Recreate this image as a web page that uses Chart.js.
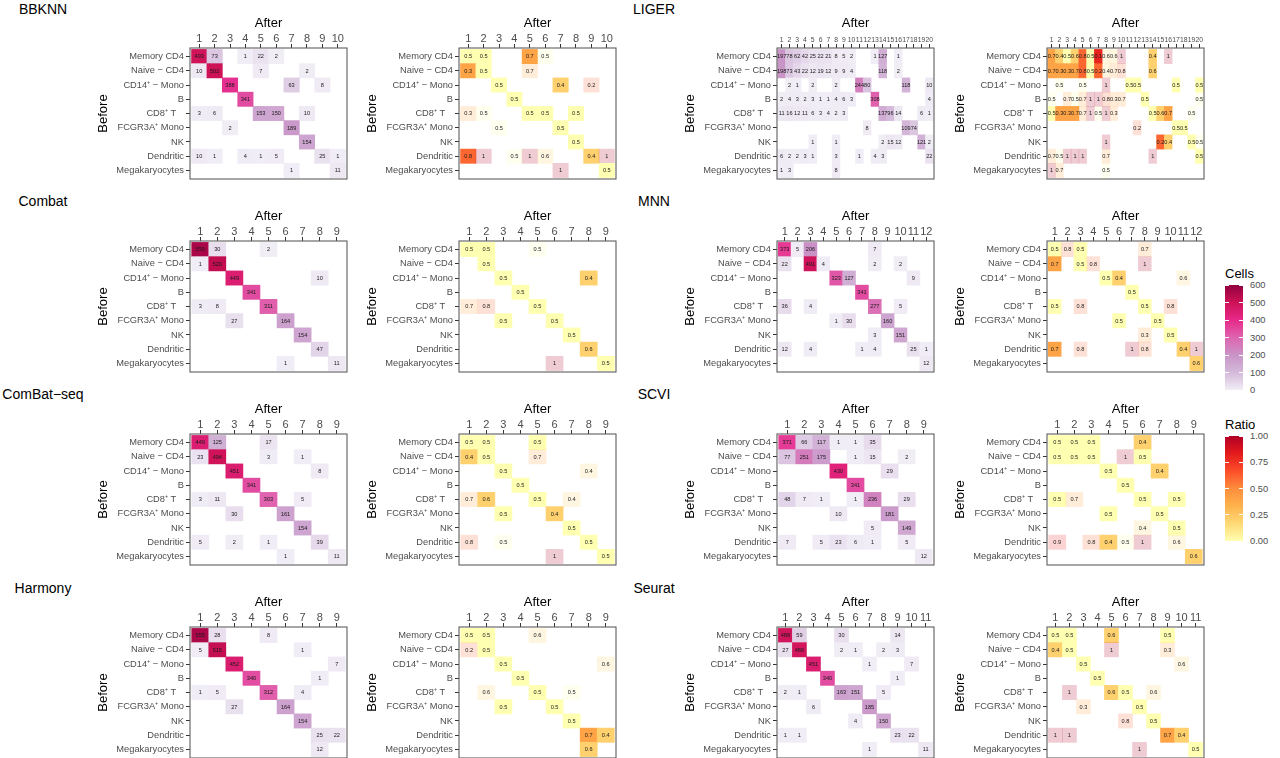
<!DOCTYPE html>
<html>
<head>
<meta charset="utf-8">
<script src="https://cdn.jsdelivr.net/npm/chart.js@4.4.1/dist/chart.umd.min.js"></script>
<style>
  html, body { margin: 0; padding: 0; background: #fff; }
  body { width: 1280px; height: 758px; position: relative; overflow: hidden;
         font-family: "Liberation Sans", Arial, Helvetica, sans-serif; }
  canvas { position: absolute; }
  .ptitle { position: absolute; font-size: 14px; color: #000; transform: translate(-50%, -50%); white-space: nowrap; }
  .ltitle { position: absolute; font-size: 13px; color: #000; transform: translateY(-50%); }
  .lbar { position: absolute; }
  .ltick { position: absolute; height: 1px; background: #fff; }
  .llabel { position: absolute; font-size: 9.3px; color: #4d4d4d; transform: translateY(-50%); }
</style>
</head>
<body>
<script>
const _ = null;

const cellTypes = ['Memory CD4', 'Naive \u2212 CD4', 'CD14\u207A \u2212 Mono', 'B', 'CD8\u207A T   ',
                   'FCGR3A\u207A Mono', 'NK', 'Dendritic', 'Megakaryocytes'];
const clusterIds = ['1', '2', '3', '4', '5', '6', '7', '8', '9', '10',
                    '11', '12', '13', '14', '15', '16', '17', '18', '19', '20'];

// rows follow cellTypes, columns are the "After" clusters
const bbknnCells = [
  [493, 73, _, 1, 22, 2, _, _, _, _],
  [10, 502, _, _, 7, _, _, 2, _, _],
  [_, _, 388, _, _, _, 63, _, 8, _],
  [_, _, _, 341, _, _, _, _, _, _],
  [3, 6, _, _, 153, 150, _, 10, _, _],
  [_, _, 2, _, _, _, 189, _, _, _],
  [_, _, _, _, _, _, _, 154, _, _],
  [10, 1, _, 4, 1, 5, _, _, 25, 1],
  [_, _, _, _, _, _, 1, _, _, 11]
];
const bbknnRatio = [
  [0.5, 0.5, _, _, 0.7, 0.5, _, _, _, _],
  [0.3, 0.5, _, _, 0.7, _, _, _, _, _],
  [_, _, 0.5, _, _, _, 0.4, _, 0.2, _],
  [_, _, _, 0.5, _, _, _, _, _, _],
  [0.3, 0.5, _, _, 0.5, 0.5, _, 0.5, _, _],
  [_, _, 0.5, _, _, _, 0.5, _, _, _],
  [_, _, _, _, _, _, _, 0.5, _, _],
  [0.8, 1, _, 0.5, 1, 0.6, _, _, 0.4, 1],
  [_, _, _, _, _, _, 1, _, _, 0.5]
];

const combatCells = [
  [559, 30, _, _, 2, _, _, _, _],
  [1, 520, _, _, _, _, _, _, _],
  [_, _, 449, _, _, _, _, 10, _],
  [_, _, _, 341, _, _, _, _, _],
  [3, 8, _, _, 311, _, _, _, _],
  [_, _, 27, _, _, 164, _, _, _],
  [_, _, _, _, _, _, 154, _, _],
  [_, _, _, _, _, _, _, 47, _],
  [_, _, _, _, _, 1, _, _, 11]
];
const combatRatio = [
  [0.5, 0.5, _, _, 0.5, _, _, _, _],
  [_, 0.5, _, _, _, _, _, _, _],
  [_, _, 0.5, _, _, _, _, 0.4, _],
  [_, _, _, 0.5, _, _, _, _, _],
  [0.7, 0.8, _, _, 0.5, _, _, _, _],
  [_, _, 0.5, _, _, 0.5, _, _, _],
  [_, _, _, _, _, _, 0.5, _, _],
  [_, _, _, _, _, _, _, 0.6, _],
  [_, _, _, _, _, 1, _, _, 0.5]
];

const combatSeqCells = [
  [449, 125, _, _, 17, _, _, _, _],
  [23, 494, _, _, 3, _, 1, _, _],
  [_, _, 451, _, _, _, _, 8, _],
  [_, _, _, 341, _, _, _, _, _],
  [3, 11, _, _, 303, _, 5, _, _],
  [_, _, 30, _, _, 161, _, _, _],
  [_, _, _, _, _, _, 154, _, _],
  [5, _, 2, _, 1, _, _, 39, _],
  [_, _, _, _, _, 1, _, _, 11]
];
const combatSeqRatio = [
  [0.5, 0.5, _, _, 0.5, _, _, _, _],
  [0.4, 0.5, _, _, 0.7, _, _, _, _],
  [_, _, 0.5, _, _, _, _, 0.4, _],
  [_, _, _, 0.5, _, _, _, _, _],
  [0.7, 0.6, _, _, 0.5, _, 0.4, _, _],
  [_, _, 0.5, _, _, 0.4, _, _, _],
  [_, _, _, _, _, _, 0.5, _, _],
  [0.8, _, 0.5, _, _, _, _, 0.5, _],
  [_, _, _, _, _, 1, _, _, 0.5]
];

const harmonyCells = [
  [555, 28, _, _, 8, _, _, _, _],
  [5, 515, _, _, _, _, 1, _, _],
  [_, _, 452, _, _, _, _, _, 7],
  [_, _, _, 340, _, _, _, 1, _],
  [1, 5, _, _, 312, _, 4, _, _],
  [_, _, 27, _, _, 164, _, _, _],
  [_, _, _, _, _, _, 154, _, _],
  [_, _, _, _, _, _, _, 25, 22],
  [_, _, _, _, _, _, _, 12, _]
];
const harmonyRatio = [
  [0.5, 0.5, _, _, 0.6, _, _, _, _],
  [0.2, 0.5, _, _, _, _, _, _, _],
  [_, _, 0.5, _, _, _, _, _, 0.6],
  [_, _, _, 0.5, _, _, _, _, _],
  [_, 0.6, _, _, 0.5, _, 0.5, _, _],
  [_, _, 0.5, _, _, 0.5, _, _, _],
  [_, _, _, _, _, _, 0.5, _, _],
  [_, _, _, _, _, _, _, 0.7, 0.4],
  [_, _, _, _, _, _, _, 0.6, _]
];

const ligerCells = [
  [197, 78, 62, 42, 25, 22, 21, 8, 5, 2, _, _, 1, 127, _, 1, _, _, _, _],
  [198, 73, 43, 22, 12, 19, 12, 9, 9, 4, _, _, _, 118, _, 2, _, _, _, _],
  [_, 2, 1, _, 2, _, _, 2, _, _, 244, 80, _, _, _, _, 118, _, _, 10],
  [2, 4, 3, 2, 3, 1, 1, 4, 6, 3, _, _, 308, _, _, _, _, _, _, 4],
  [11, 16, 12, 11, 6, 3, 4, 2, 3, _, _, _, _, 137, 96, 14, _, _, 6, 1],
  [_, _, _, _, _, _, _, _, _, _, _, 8, _, _, _, _, 109, 74, _, _],
  [_, _, _, _, 1, _, _, 1, _, _, _, _, _, 2, 15, 12, _, _, 121, 2],
  [6, 2, 2, 3, 1, _, _, 3, _, _, 1, _, 4, 3, _, _, _, _, _, 22],
  [1, 3, _, _, _, _, _, 8, _, _, _, _, _, _, _, _, _, _, _, _]
];
const ligerRatio = [
  [0.7, 0.4, 0.5, 0.6, 0.8, 0.5, 0.1, 0.6, 0.6, 1, _, _, _, 0.4, _, 1, _, _, _, _],
  [0.7, 0.3, 0.3, 0.7, 0.8, 0.5, 0.2, 0.4, 0.7, 0.8, _, _, _, 0.6, _, _, _, _, _, _],
  [_, 0.5, _, _, 0.5, _, _, 1, _, _, 0.5, 0.5, _, _, _, _, 0.5, _, _, 0.5],
  [0.5, _, 0.7, 0.5, 0.7, 1, 1, 0.8, 0.3, 0.7, _, _, 0.5, _, _, _, _, _, _, 0.5],
  [0.5, 0.3, 0.3, 0.7, 0.7, 1, 0.5, 1, 0.3, _, _, _, _, 0.5, 0.6, 0.7, _, _, 0.5, _],
  [_, _, _, _, _, _, _, _, _, _, _, 0.2, _, _, _, _, 0.5, 0.5, _, _],
  [_, _, _, _, _, _, _, 1, _, _, _, _, _, _, 0.2, 0.4, _, _, 0.5, 0.5],
  [0.7, 0.5, 1, 1, 1, _, _, 0.7, _, _, _, _, _, 1, _, _, _, _, _, 0.5],
  [1, 0.7, _, _, _, _, _, 0.5, _, _, _, _, _, _, _, _, _, _, _, _]
];

const mnnCells = [
  [373, 5, 206, _, _, _, _, 7, _, _, _, _],
  [22, _, 491, 4, _, _, _, 2, _, 2, _, _],
  [_, _, _, _, 323, 127, _, _, _, _, 9, _],
  [_, _, _, _, _, _, 341, _, _, _, _, _],
  [36, _, 4, _, _, _, _, 277, _, 5, _, _],
  [_, _, _, _, 1, 30, _, _, 160, _, _, _],
  [_, _, _, _, _, _, _, 3, _, 151, _, _],
  [12, _, 4, _, _, _, 1, 4, _, _, 25, 1],
  [_, _, _, _, _, _, _, _, _, _, _, 12]
];
const mnnRatio = [
  [0.5, 0.8, 0.5, _, _, _, _, 0.7, _, _, _, _],
  [0.7, _, 0.5, 0.8, _, _, _, 1, _, _, _, _],
  [_, _, _, _, 0.5, 0.4, _, _, _, _, 0.6, _],
  [_, _, _, _, _, _, 0.5, _, _, _, _, _],
  [0.5, _, 0.8, _, _, _, _, 0.5, _, 0.8, _, _],
  [_, _, _, _, _, 0.5, _, _, 0.5, _, _, _],
  [_, _, _, _, _, _, _, 0.3, _, 0.5, _, _],
  [0.7, _, 0.8, _, _, _, 1, 0.8, _, _, 0.4, 1],
  [_, _, _, _, _, _, _, _, _, _, _, 0.6]
];

const scviCells = [
  [371, 66, 117, 1, 1, 35, _, _, _],
  [77, 251, 175, _, 1, 15, _, 2, _],
  [_, _, _, 430, _, _, 29, _, _],
  [_, _, _, _, 341, _, _, _, _],
  [48, 7, 1, _, 1, 236, _, 29, _],
  [_, _, _, 10, _, _, 181, _, _],
  [_, _, _, _, _, 5, _, 149, _],
  [7, _, 5, 23, 6, 1, _, 5, _],
  [_, _, _, _, _, _, _, _, 12]
];
const scviRatio = [
  [0.5, 0.5, 0.5, _, _, 0.4, _, _, _],
  [0.5, 0.5, 0.5, _, 1, 0.5, _, _, _],
  [_, _, _, 0.5, _, _, 0.4, _, _],
  [_, _, _, _, 0.5, _, _, _, _],
  [0.5, 0.7, _, _, _, 0.5, _, 0.5, _],
  [_, _, _, 0.5, _, _, 0.5, _, _],
  [_, _, _, _, _, 0.4, _, 0.5, _],
  [0.9, _, 0.8, 0.4, 0.5, 1, _, 0.6, _],
  [_, _, _, _, _, _, _, _, 0.6]
];

const seuratCells = [
  [488, 59, _, _, 30, _, _, _, 14, _, _],
  [27, 486, _, _, 2, 1, _, 2, 3, _, _],
  [_, _, 451, _, _, _, 1, _, _, 7, _],
  [_, _, _, 340, _, _, _, _, 1, _, _],
  [2, 1, _, _, 163, 151, _, 5, _, _, _],
  [_, _, 6, _, _, _, 185, _, _, _, _],
  [_, _, _, _, _, 4, _, 150, _, _, _],
  [1, 1, _, _, _, _, _, _, 23, 22, _],
  [_, _, _, _, _, _, 1, _, _, _, 11]
];
const seuratRatio = [
  [0.5, 0.5, _, _, 0.6, _, _, _, 0.5, _, _],
  [0.4, 0.5, _, _, 1, _, _, _, 0.3, _, _],
  [_, _, 0.5, _, _, _, _, _, _, 0.6, _],
  [_, _, _, 0.5, _, _, _, _, _, _, _],
  [_, 1, _, _, 0.6, 0.5, _, 0.6, _, _, _],
  [_, _, 0.3, _, _, _, 0.5, _, _, _, _],
  [_, _, _, _, _, 0.8, _, 0.5, _, _, _],
  [1, 1, _, _, _, _, _, _, 0.7, 0.4, _],
  [_, _, _, _, _, _, 1, _, _, _, 0.5]
];

const cellTicks = [0, 100, 200, 300, 400, 500, 600];
const ratioTicks = [0, 0.25, 0.5, 0.75, 1];
const cellMax = 600;

const puRd = ['#f1eef6', '#d4b9da', '#c994c7', '#df65b0', '#e7298a', '#ce1256', '#91003f'];
const ylOrRd = ['#ffffb2', '#fed976', '#feb24c', '#fd8d3c', '#fc4e2a', '#e31a1c', '#b10026'];

// layout
const FONT = '"Liberation Sans", Arial, Helvetica, sans-serif';
const BOX_W = 157, BOX_H = 131, AXIS_W = 94, AXIS_H = 32, PAD_R = 4, PAD_B = 8;
const columnsX = [{ title: 43, cells: 190, ratio: 459 }, { title: 654, cells: 777, ratio: 1047 }];
const rowsY = [{ title: 8.5, box: 48 }, { title: 201, box: 241 }, { title: 394, box: 434 }, { title: 588, box: 627 }];

const panels = [
  { title: 'BBKNN', cells: bbknnCells, ratio: bbknnRatio, col: 0, row: 0 },
  { title: 'Combat', cells: combatCells, ratio: combatRatio, col: 0, row: 1 },
  { title: 'ComBat\u2212seq', cells: combatSeqCells, ratio: combatSeqRatio, col: 0, row: 2 },
  { title: 'Harmony', cells: harmonyCells, ratio: harmonyRatio, col: 0, row: 3 },
  { title: 'LIGER', cells: ligerCells, ratio: ligerRatio, col: 1, row: 0 },
  { title: 'MNN', cells: mnnCells, ratio: mnnRatio, col: 1, row: 1 },
  { title: 'SCVI', cells: scviCells, ratio: scviRatio, col: 1, row: 2 },
  { title: 'Seurat', cells: seuratCells, ratio: seuratRatio, col: 1, row: 3 }
];

function hexToRgb(h) { return [1, 3, 5].map(i => parseInt(h.slice(i, i + 2), 16)); }
function ramp(stops, t) {
  t = Math.max(0, Math.min(1, t));
  const s = t * (stops.length - 1);
  const i = Math.min(Math.floor(s), stops.length - 2);
  const f = s - i;
  const a = hexToRgb(stops[i]), b = hexToRgb(stops[i + 1]);
  return a.map((v, k) => Math.round(v + (b[k] - v) * f));
}
function cellFill(p) {
  const c = ramp(puRd, p.v / cellMax);
  return `rgb(${c[0]},${c[1]},${c[2]})`;
}
function ratioFill(p) {
  // distance from an even 0.5 split, faded where the tile holds few cells
  const c = ramp(ylOrRd, Math.abs(p.v - 0.5) * 2);
  const a = p.n !== null && p.n < 10 ? 0.2 : 1;
  return `rgba(${c[0]},${c[1]},${c[2]},${a})`;
}

const panelBox = {
  id: 'panelBox',
  afterDraw(chart) {
    const { ctx, chartArea: a } = chart;
    ctx.save();
    ctx.strokeStyle = '#5e5e5e';
    ctx.lineWidth = 1.1;
    ctx.strokeRect(a.left, a.top, a.right - a.left, a.bottom - a.top);
    ctx.restore();
  }
};

const cellText = {
  id: 'cellText',
  afterDatasetsDraw(chart) {
    const { ctx } = chart;
    const meta = chart.getDatasetMeta(0);
    const data = chart.data.datasets[0].data;
    ctx.save();
    ctx.font = `5.6px ${FONT}`;
    ctx.fillStyle = '#1a1a1a';
    ctx.textAlign = 'center';
    ctx.textBaseline = 'middle';
    meta.data.forEach((bar, i) => {
      const p = bar.getCenterPoint();
      ctx.fillText(String(data[i].v), p.x, p.y + 0.3);
    });
    ctx.restore();
  }
};

function addText(cls, text, x, y) {
  const d = document.createElement('div');
  d.className = cls;
  d.textContent = text;
  d.style.left = x + 'px';
  d.style.top = y + 'px';
  document.body.appendChild(d);
  return d;
}

function drawHeatmap(left, top, values, counts, fillFn) {
  const nCols = values[0].length;
  const labels = clusterIds.slice(0, nCols);
  const tiles = [];
  values.forEach((row, r) => row.forEach((v, c) => {
    if (v !== null) tiles.push({ x: c, y: [r - 0.5, r + 0.5], v: v, n: counts[r][c] });
  }));

  const canvas = document.createElement('canvas');
  canvas.width = AXIS_W + BOX_W + PAD_R;
  canvas.height = AXIS_H + BOX_H + PAD_B;
  canvas.style.left = (left - AXIS_W) + 'px';
  canvas.style.top = (top - AXIS_H) + 'px';
  document.body.appendChild(canvas);

  const colFont = nCols > 15 ? 6.8 : 11;

  new Chart(canvas, {
    type: 'bar',
    data: {
      datasets: [{
        data: tiles,
        backgroundColor: ctx => fillFn(ctx.raw),
        borderWidth: 0,
        barPercentage: 1,
        categoryPercentage: 1
      }]
    },
    options: {
      responsive: false,
      animation: false,
      events: [],
      layout: { padding: { top: 0, left: 0, right: PAD_R, bottom: PAD_B } },
      plugins: { legend: { display: false }, tooltip: { enabled: false } },
      scales: {
        x: {
          type: 'linear', position: 'top', min: -0.6, max: nCols - 0.4, offset: false,
          afterBuildTicks: ax => { ax.ticks = labels.map((l, i) => ({ value: i })); },
          afterFit: ax => { ax.height = AXIS_H; },
          ticks: { callback: v => labels[v], autoSkip: false, maxRotation: 0, minRotation: 0, padding: 0,
                   color: '#4d4d4d', font: { family: FONT, size: colFont, lineHeight: 1 } },
          grid: { drawOnChartArea: false, drawTicks: true, tickLength: 4, color: '#333', offset: false },
          border: { display: false },
          title: { display: true, text: 'After', color: '#000', padding: 0, font: { family: FONT, size: 13 } }
        },
        y: {
          type: 'linear', reverse: true, min: -0.6, max: cellTypes.length - 0.4, beginAtZero: false,
          afterBuildTicks: ax => { ax.ticks = cellTypes.map((l, i) => ({ value: i })); },
          afterFit: ax => { ax.width = AXIS_W; },
          ticks: { callback: v => cellTypes[v], autoSkip: false, padding: 2,
                   color: '#4d4d4d', font: { family: FONT, size: 9.3 } },
          grid: { drawOnChartArea: false, drawTicks: true, tickLength: 4, color: '#333' },
          border: { display: false },
          title: { display: true, text: 'Before', color: '#000', padding: 0, font: { family: FONT, size: 13 } }
        }
      }
    },
    plugins: [panelBox, cellText]
  });
}

panels.forEach(p => {
  const cx = columnsX[p.col], ry = rowsY[p.row];
  addText('ptitle', p.title, cx.title, ry.title);
  drawHeatmap(cx.cells, ry.box, p.cells, p.cells, cellFill);
  drawHeatmap(cx.ratio, ry.box, p.ratio, p.cells, ratioFill);
});

// colour bars
function drawColorbar(title, titleY, barTop, stops, ticks, maxValue, fmt) {
  const BAR_X = 1225, BAR_W = 18, BAR_H = 105;
  addText('ltitle', title, BAR_X, titleY);
  const bar = document.createElement('div');
  bar.className = 'lbar';
  bar.style.left = BAR_X + 'px';
  bar.style.top = barTop + 'px';
  bar.style.width = BAR_W + 'px';
  bar.style.height = BAR_H + 'px';
  bar.style.background = `linear-gradient(to top, ${stops.join(', ')})`;
  document.body.appendChild(bar);
  ticks.forEach(t => {
    const y = barTop + BAR_H - (t / maxValue) * BAR_H;
    [BAR_X, BAR_X + BAR_W - 4].forEach(x => {
      const tk = document.createElement('div');
      tk.className = 'ltick';
      tk.style.left = x + 'px';
      tk.style.top = (y - 0.5) + 'px';
      tk.style.width = '4px';
      document.body.appendChild(tk);
    });
    addText('llabel', fmt(t), BAR_X + BAR_W + 7, y);
  });
}

drawColorbar('Cells', 273, 285, puRd, cellTicks, cellMax, t => String(t));
drawColorbar('Ratio', 424, 436, ylOrRd, ratioTicks, 1, t => t.toFixed(2));
</script>
</body>
</html>
